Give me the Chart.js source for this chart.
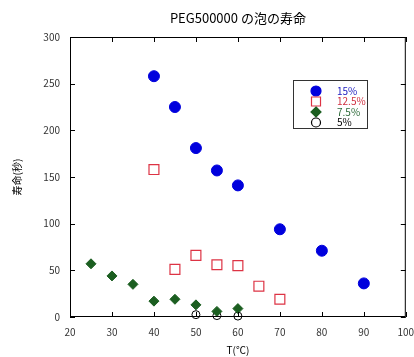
<!DOCTYPE html>
<html><head><meta charset="utf-8">
<script src="https://cdn.jsdelivr.net/npm/chart.js@4"></script>
<style>html,body{margin:0;padding:0;background:#fff}#w{width:414px;height:357px}</style>
</head><body><div id="w"><canvas id="c" width="414" height="357"></canvas></div>
<script>
const chartTitle = "PEG500000 の泡の寿命";
const xTitle = "T(\u2103)";
const yTitle = "寿命(秒)";
const seriesLabels = ["15%", "12.5%", "7.5%", "5%"];
const x15 = [40, 45, 50, 55, 60, 70, 80, 90];
const y15 = [258, 225, 181, 157, 141, 94, 71, 36];
const x125 = [40, 45, 50, 55, 60, 65, 70];
const y125 = [158, 51, 66, 56, 55, 33, 19];
const x75 = [25, 30, 35, 40, 45, 50, 55, 60];
const y75 = [57, 44, 35, 17, 19, 13, 6, 9];
const x5 = [50, 55, 60];
const y5 = [2.5, 1.5, 1];
const xTicks = [20, 30, 40, 50, 60, 70, 80, 90, 100];
const yTicks = [0, 50, 100, 150, 200, 250, 300];

const pts = (xs, ys) => xs.map((x, i) => ({x, y: ys[i]}));
const FONT = '"Noto Sans CJK JP", "DejaVu Sans", sans-serif';

const frame = {
  id: 'frame',
  afterDraw(chart) {
    const {ctx, chartArea: a, scales} = chart;
    ctx.save();
    ctx.strokeStyle = '#000'; ctx.lineWidth = 1;
    ctx.strokeRect(a.left + 0.5, a.top + 0.5, a.right - a.left - 1, a.bottom - a.top - 1);
    ctx.beginPath();
    xTicks.forEach(v => {
      const px = Math.round(scales.x.getPixelForValue(v)) + 0.5;
      ctx.moveTo(px, a.bottom); ctx.lineTo(px, a.bottom - 5);
      ctx.moveTo(px, a.top); ctx.lineTo(px, a.top + 5);
    });
    yTicks.forEach(v => {
      const py = Math.round(scales.y.getPixelForValue(v)) + 0.5;
      ctx.moveTo(a.left, py); ctx.lineTo(a.left + 5, py);
      ctx.moveTo(a.right, py); ctx.lineTo(a.right - 5, py);
    });
    ctx.stroke();
    // titles
    ctx.fillStyle = '#000';
    ctx.textAlign = 'center'; ctx.textBaseline = 'middle';
    ctx.font = '13px ' + FONT;
    ctx.fillText(chartTitle, (a.left + a.right) / 2, 18);
    ctx.font = '10px ' + FONT;
    ctx.fillText(xTitle, (a.left + a.right) / 2, 350);
    ctx.save();
    ctx.translate(17, 177);
    ctx.rotate(-Math.PI / 2);
    ctx.fillText(yTitle, 0, 0);
    ctx.restore();
    // legend
    const lx = 293, ly = 80, lw = 74, lh = 48;
    ctx.fillStyle = '#fff';
    ctx.fillRect(lx, ly, lw, lh);
    ctx.strokeStyle = '#333';
    ctx.strokeRect(lx + 0.5, ly + 0.5, lw, lh);
    ctx.textAlign = 'left';
    ctx.font = '10px ' + FONT;
    chart.data.datasets.forEach((ds, i) => {
      const cy = ly + 11 + i * 10.5;
      const cx = lx + 23;
      const st = ds.pointStyle;
      ctx.lineWidth = 1.2;
      ctx.fillStyle = ds.pointBackgroundColor; ctx.strokeStyle = ds.pointBorderColor;
      ctx.beginPath();
      if (st === 'circle') ctx.arc(cx, cy, ds.legendR, 0, Math.PI * 2);
      else if (st === 'rect') ctx.rect(cx - ds.legendR, cy - ds.legendR, ds.legendR * 2, ds.legendR * 2);
      else if (st === 'rectRot') { const r = ds.legendR; ctx.moveTo(cx, cy - r); ctx.lineTo(cx + r, cy); ctx.lineTo(cx, cy + r); ctx.lineTo(cx - r, cy); ctx.closePath(); }
      ctx.fill(); ctx.stroke();
      ctx.fillStyle = ds.legendTextColor;
      ctx.fillText(ds.label, lx + 44, cy);
    });
    ctx.restore();
  }
};

new Chart(document.getElementById('c'), {
  type: 'scatter',
  data: {
    datasets: [
      {label: seriesLabels[0], data: pts(x15, y15), pointStyle: 'circle', pointRadius: 5.5, legendR: 5, clip: false,
       pointBackgroundColor: '#0000dd', pointBorderColor: '#0000dd', pointBorderWidth: 1, legendTextColor: '#2020c0'},
      {label: seriesLabels[1], data: pts(x125, y125), pointStyle: 'rect', pointRadius: 7, legendR: 4.5, clip: false,
       pointBackgroundColor: '#ffffff', pointBorderColor: '#dd3344', pointBorderWidth: 1.2, legendTextColor: '#d03040'},
      {label: seriesLabels[2], data: pts(x75, y75), pointStyle: 'rectRot', pointRadius: 5, legendR: 5, clip: false,
       pointBackgroundColor: '#1b5e20', pointBorderColor: '#1b5e20', pointBorderWidth: 1, legendTextColor: '#2e6b3a'},
      {label: seriesLabels[3], data: pts(x5, y5), pointStyle: 'circle', pointRadius: 4, legendR: 4.5, clip: false,
       pointBackgroundColor: 'rgba(255,255,255,0)', pointBorderColor: '#000000', pointBorderWidth: 1, legendTextColor: '#000000'}
    ]
  },
  options: {
    responsive: false, animation: false,
    layout: {padding: {top: 37, right: 7, left: 0, bottom: 0}},
    plugins: {legend: {display: false}, tooltip: {enabled: false}, title: {display: false}},
    scales: {
      x: {
        type: 'linear', min: 20, max: 100,
        afterBuildTicks: s => { s.ticks = xTicks.map(v => ({value: v})); },
        afterFit: s => { s.height = 40; s.paddingLeft = 0; s.paddingRight = 0; },
        grid: {display: false, drawTicks: false},
        border: {display: false},
        ticks: {padding: 9, color: '#333', font: {family: FONT, size: 10}, maxRotation: 0}
      },
      y: {
        type: 'linear', min: 0, max: 300,
        afterBuildTicks: s => { s.ticks = yTicks.map(v => ({value: v})); },
        afterFit: s => { s.width = 70; s.paddingTop = 0; s.paddingBottom = 0; },
        grid: {display: false, drawTicks: false},
        border: {display: false},
        ticks: {padding: 10, color: '#333', font: {family: FONT, size: 10}}
      }
    }
  },
  plugins: [frame]
});
</script></body></html>
